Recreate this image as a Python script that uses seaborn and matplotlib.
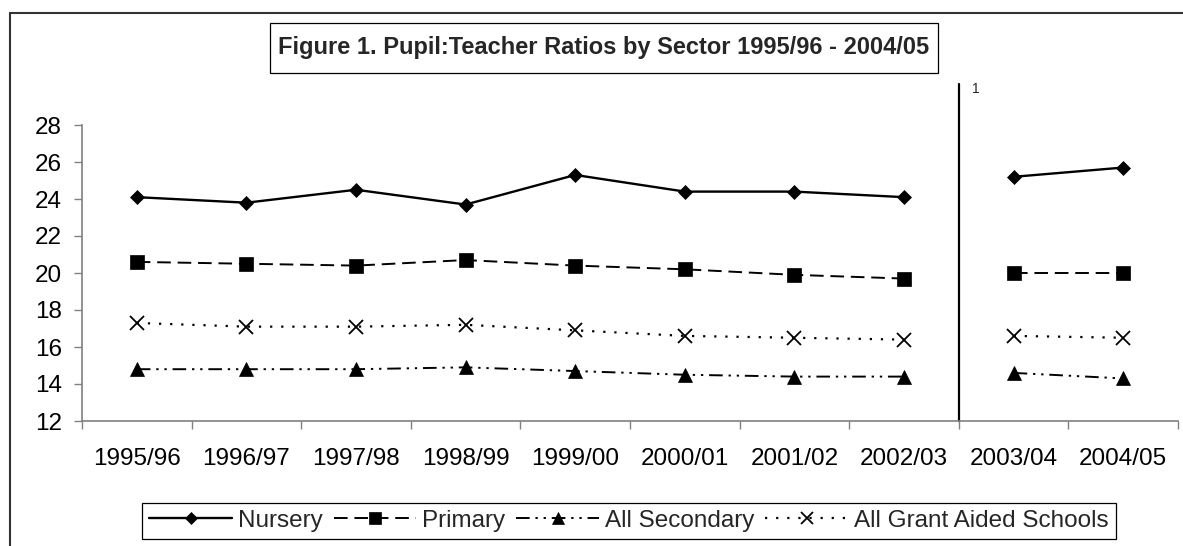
import matplotlib
matplotlib.use("Agg")
import matplotlib.pyplot as plt
import seaborn as sns
import pandas as pd
from matplotlib.lines import Line2D
from matplotlib.patches import Rectangle

# ---------------- data ----------------
years = ["1995/96", "1996/97", "1997/98", "1998/99", "1999/00",
         "2000/01", "2001/02", "2002/03", "2003/04", "2004/05"]
segments = ["old"] * 8 + ["new"] * 2
nursery = [24.1, 23.8, 24.5, 23.7, 25.3, 24.4, 24.4, 24.1, 25.2, 25.7]
primary = [20.6, 20.5, 20.4, 20.7, 20.4, 20.2, 19.9, 19.7, 20.0, 20.0]
secondary = [14.8, 14.8, 14.8, 14.9, 14.7, 14.5, 14.4, 14.4, 14.6, 14.3]
grant_aided = [17.3, 17.1, 17.1, 17.2, 16.9, 16.6, 16.5, 16.4, 16.6, 16.5]
series_names = ["Nursery", "Primary", "All Secondary", "All Grant Aided Schools"]
y_ticks = [12, 14, 16, 18, 20, 22, 24, 26, 28]
title_text = "Figure 1. Pupil:Teacher Ratios by Sector 1995/96 - 2004/05"
footnote_mark = "1"

values = {"Nursery": nursery, "Primary": primary,
          "All Secondary": secondary, "All Grant Aided Schools": grant_aided}

rows = []
for name in series_names:
    for i, (yr, seg, v) in enumerate(zip(years, segments, values[name])):
        rows.append({"series": name, "year": yr, "pos": i + 0.5,
                     "segment": seg, "value": v})
df = pd.DataFrame(rows)

# ---------------- styles ----------------
styles = {
    "Nursery": dict(marker="D", markersize=7.5, linewidth=1.7, linestyle="-",
                    markeredgewidth=0.5),
    "Primary": dict(marker="s", markersize=9.5, linewidth=1.4,
                    linestyle=(0, (7, 3.5)), markeredgewidth=0.5),
    "All Secondary": dict(marker="^", markersize=10, linewidth=1.4,
                          linestyle=(0, (7, 3, 1.2, 3, 1.2, 3)), markeredgewidth=0.5),
    "All Grant Aided Schools": dict(marker="x", markersize=9.5, linewidth=1.6,
                                    linestyle=(0, (1, 4)), markeredgewidth=1.3),
}

sns.set_theme(style="ticks")
plt.rcParams["font.family"] = ["Liberation Sans", "DejaVu Sans"]

W, H = 1183, 546
fig = plt.figure(figsize=(W / 100, H / 100), dpi=100)
fig.patch.set_facecolor("white")


def fx(x):
    return x / W


def fy(y):
    return 1 - y / H


ax_left, ax_right, ax_top, ax_bottom = 82, 1178, 125, 421
ax = fig.add_axes([fx(ax_left), fy(ax_bottom), fx(ax_right - ax_left),
                   (ax_bottom - ax_top) / H])
ax.set_facecolor("white")

for name in series_names:
    sub = df[df["series"] == name]
    sns.lineplot(data=sub, x="pos", y="value", units="segment", estimator=None,
                 color="black", markeredgecolor="black", ax=ax, legend=False,
                 **styles[name])

n_cat = len(years)
ax.set_xlim(0, n_cat)
ax.set_ylim(y_ticks[0], y_ticks[-1])
ax.set_yticks(y_ticks)
ax.set_yticklabels([str(t) for t in y_ticks])
ax.set_xticks(range(n_cat + 1))
ax.set_xticklabels([""] * (n_cat + 1))
ax.set_xticks([i + 0.5 for i in range(n_cat)], years, minor=True)
ax.set_xlabel("")
ax.set_ylabel("")

fs = 17.5
ax.tick_params(axis="x", which="major", length=6, width=1, color="#808080",
               direction="out")
ax.tick_params(axis="x", which="minor", length=0, pad=19.5, labelsize=fs,
               labelcolor="black")
ax.tick_params(axis="y", which="major", length=6, width=1, color="#808080",
               direction="out", pad=8.5, labelsize=fs, labelcolor="black")
for s in ["top", "right"]:
    ax.spines[s].set_visible(False)
for s in ["left", "bottom"]:
    ax.spines[s].set_color("#808080")
    ax.spines[s].set_linewidth(1.2)

# divider between the two data series
break_at = segments.count("old")
ax.axvline(break_at, ymin=0, ymax=(ax_bottom - 84) / (ax_bottom - ax_top),
           color="black", lw=1.6, clip_on=False)
ax.text(break_at + 0.12, y_ticks[-1] + (ax_top - 89) / ((ax_bottom - ax_top) / 16),
        footnote_mark, fontsize=10, ha="left", va="center")

# title box
fig.text(fx(604), fy(47.7), title_text, ha="center", va="center",
         fontsize=17, fontweight="bold")
fig.add_artist(Rectangle((fx(270), fy(72.7)), fx(938 - 270), (72.7 - 22.7) / H,
                         transform=fig.transFigure, fill=False,
                         edgecolor="black", linewidth=0.9))

# outer frame
fig.add_artist(Rectangle((fx(10), -0.2), 2, fy(12.7) + 0.2,
                         transform=fig.transFigure, fill=False,
                         edgecolor="#333333", linewidth=1.5))

# legend
handles = []
for name in series_names:
    st = dict(styles[name])
    st["markersize"] = st["markersize"] * 0.85
    handles.append(Line2D([], [], color="black", markeredgecolor="black", **st))
leg = fig.legend(handles, series_names, loc="upper left",
                 bbox_to_anchor=(fx(142), fy(502.7)), ncol=4, frameon=True,
                 fancybox=False, edgecolor="black", framealpha=1,
                 borderaxespad=0, borderpad=0.3, handlelength=3.4,
                 handletextpad=0.25, columnspacing=0.45, fontsize=fs,
                 numpoints=1)
leg.get_frame().set_linewidth(0.9)

fig.savefig("out.png", dpi=100)
